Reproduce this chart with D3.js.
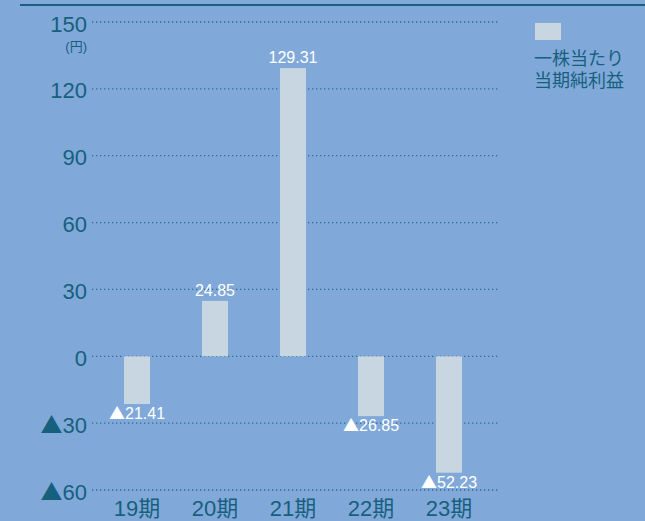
<!DOCTYPE html>
<html>
<head>
<meta charset="utf-8">
<script src="https://cdn.jsdelivr.net/npm/d3@7"></script>
<style>
  html, body { margin: 0; padding: 0; background: #80a9da; }
  svg { display: block; }
  text { font-family: "Liberation Sans", "Noto Sans CJK JP", sans-serif; }
  .tri { font-family: "Noto Sans CJK JP", sans-serif; }
</style>
</head>
<body>
<svg id="chart" width="645" height="521"></svg>
<script>
// 一株当たり当期純利益 (円)
const periods = ["19期", "20期", "21期", "22期", "23期"];
const epsValues = [-21.41, 24.85, 129.31, -26.85, -52.23];
const tickValues = [150, 120, 90, 60, 30, 0, -30, -60];
const legendLines = ["一株当たり", "当期純利益"];

const ink = "#17607d";
const barFill = "#c8d6e2";

// negative numbers are written with a leading ▲ instead of a minus sign
function writeSigned(sel, v, digits) {
  const abs = digits == null ? String(Math.abs(v)) : Math.abs(v).toFixed(digits);
  if (v < 0) sel.append("tspan").attr("class", "tri").text("▲");
  sel.append("tspan").text(abs);
}

const svg = d3.select("#chart");
svg.append("rect").attr("width", 645).attr("height", 521).attr("fill", "#80a9da");

// top rule
svg.append("line")
  .attr("x1", 20).attr("x2", 645).attr("y1", 5).attr("y2", 5)
  .attr("stroke", "#1d5f7c").attr("stroke-width", 2);

const y = d3.scaleLinear().domain([-60, 150]).range([490, 22]);
const x = d3.scaleBand().domain(periods).range([98, 488])
  .paddingInner(2 / 3).paddingOuter(1 / 3);

// dotted gridlines
svg.append("g").selectAll("line").data(tickValues).join("line")
  .attr("x1", 92).attr("x2", 500)
  .attr("y1", d => y(d)).attr("y2", d => y(d))
  .attr("stroke", "#2d6d8e").attr("stroke-width", 1.3)
  .attr("stroke-dasharray", "1.3 2.7");

// y tick labels
svg.append("g").selectAll("text").data(tickValues).join("text")
  .attr("x", 87).attr("y", d => y(d) + 9.5)
  .attr("text-anchor", "end")
  .attr("font-size", 22).attr("fill", ink)
  .each(function (d) { writeSigned(d3.select(this), d, null); });

svg.append("text")
  .attr("x", 87).attr("y", 51).attr("text-anchor", "end")
  .attr("font-size", 13).attr("fill", ink)
  .text("(円)");

// bars
svg.append("g").selectAll("rect").data(epsValues).join("rect")
  .attr("x", (d, i) => x(periods[i]))
  .attr("width", x.bandwidth())
  .attr("y", d => y(Math.max(0, d)))
  .attr("height", d => Math.abs(y(d) - y(0)))
  .attr("fill", barFill);

// value labels
svg.append("g").selectAll("text").data(epsValues).join("text")
  .attr("x", (d, i) => x(periods[i]) + x.bandwidth() / 2)
  .attr("y", d => d >= 0 ? y(d) - 5 : y(d) + 15)
  .attr("text-anchor", "middle")
  .attr("font-size", 16).attr("fill", "#ffffff")
  .each(function (d) { writeSigned(d3.select(this), d, 2); });

// category labels
svg.append("g").selectAll("text").data(periods).join("text")
  .attr("x", d => x(d) + x.bandwidth() / 2)
  .attr("y", 516)
  .attr("text-anchor", "middle")
  .attr("font-size", 22).attr("fill", ink)
  .text(d => d);

// legend
svg.append("rect").attr("x", 535).attr("y", 23).attr("width", 26).attr("height", 17)
  .attr("fill", barFill);
svg.append("g").selectAll("text").data(legendLines).join("text")
  .attr("x", 534).attr("y", (d, i) => 65 + i * 22)
  .attr("font-size", 18).attr("fill", ink)
  .text(d => d);
</script>
</body>
</html>
